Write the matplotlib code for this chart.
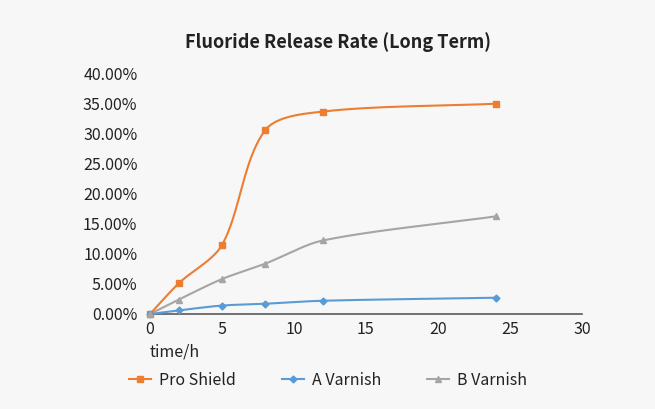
import numpy as np
import matplotlib
matplotlib.use("Agg")
import matplotlib.pyplot as plt

plt.rcParams['font.family'] = ['Noto Sans CJK SC', 'DejaVu Sans']

# Data (waktu dalam jam, laju pelepasan fluorida)
waktu = [0, 2, 5, 8, 12, 24]
pro_shield = [0.0, 0.051, 0.1145, 0.305, 0.336, 0.349]
a_varnish = [0.0, 0.006, 0.014, 0.017, 0.022, 0.027]
b_varnish = [0.0, 0.024, 0.058, 0.0835, 0.122, 0.162]
x_ticks = [0, 5, 10, 15, 20, 25, 30]
y_ticks = [0.0, 0.05, 0.10, 0.15, 0.20, 0.25, 0.30, 0.35, 0.40]

# skala piksel kira-kira (agar kurva halus mirip Excel)
SX, SY = 14.4, 602.5


def kurva_halus(x, y, n=40, f=0.3):
    p = np.column_stack([np.asarray(x, float) * SX, np.asarray(y, float) * SY])
    m = len(p)
    tang = np.zeros_like(p)
    for i in range(m):
        a = p[max(i - 1, 0)]
        b = p[min(i + 1, m - 1)]
        d = b - a
        tang[i] = d / np.hypot(*d)
    t = np.linspace(0, 1, n)[:, None]
    hasil = []
    for i in range(m - 1):
        p0, p3 = p[i], p[i + 1]
        L = np.hypot(*(p3 - p0))
        p1 = p0 + tang[i] * L * f
        p2 = p3 - tang[i + 1] * L * f
        b = (1 - t) ** 3 * p0 + 3 * (1 - t) ** 2 * t * p1 + 3 * (1 - t) * t ** 2 * p2 + t ** 3 * p3
        hasil.append(b)
    h = np.vstack(hasil)
    return h[:, 0] / SX, h[:, 1] / SY


bg = '#f7f7f7'
fs = 11.5
fig = plt.figure(figsize=(6.55, 4.09), dpi=100, facecolor=bg)
ax = fig.add_axes([0.229, 0.2323, 0.6595, 0.5892], facecolor=bg)

seri = [
    ("Pro Shield", pro_shield, '#ED7D31', 's', 4.5),
    ("A Varnish", a_varnish, '#5B9BD5', 'D', 3.5),
    ("B Varnish", b_varnish, '#A5A5A5', '^', 4.5),
]
for nama, nilai, warna, mk, ms in seri:
    hx, hy = kurva_halus(waktu, nilai)
    ax.plot(hx, hy, color=warna, lw=1.5, zorder=3, clip_on=False)
    ax.plot(waktu, nilai, linestyle='none', marker=mk, ms=ms, color=warna, zorder=4, clip_on=False)
    ax.plot([], [], color=warna, lw=1.5, marker=mk, ms=ms, label=nama)

ax.set_xlim(0, 30)
ax.set_ylim(0, 0.40)
ax.set_xticks(x_ticks)
ax.set_yticks(y_ticks)
ax.set_yticklabels(["{:.2f}%".format(v * 100) for v in y_ticks])
for s in ['top', 'right', 'left']:
    ax.spines[s].set_visible(False)
ax.spines['bottom'].set_color('#595959')
ax.spines['bottom'].set_linewidth(1.2)
ax.tick_params(axis='both', length=0, labelsize=fs, colors='#222222')
ax.tick_params(axis='x', pad=5)
ax.tick_params(axis='y', pad=9)
ax.set_xlabel("time/h", fontsize=fs, color='#222222', loc='left', labelpad=4)
ax.xaxis.label.set_horizontalalignment('left')

fig.text(0.516, 0.897, "Fluoride Release Rate (Long Term)", ha='center', va='center',
         fontsize=13, fontweight='bold', color='#222222')

leg = fig.legend(loc='center left', bbox_to_anchor=(0.175, 0.07), ncol=3, frameon=False,
                 fontsize=fs, handlelength=1.4, handletextpad=0.5, columnspacing=2.85)
for t in leg.get_texts():
    t.set_color('#222222')

fig.savefig("out.png", dpi=100, facecolor=bg)
